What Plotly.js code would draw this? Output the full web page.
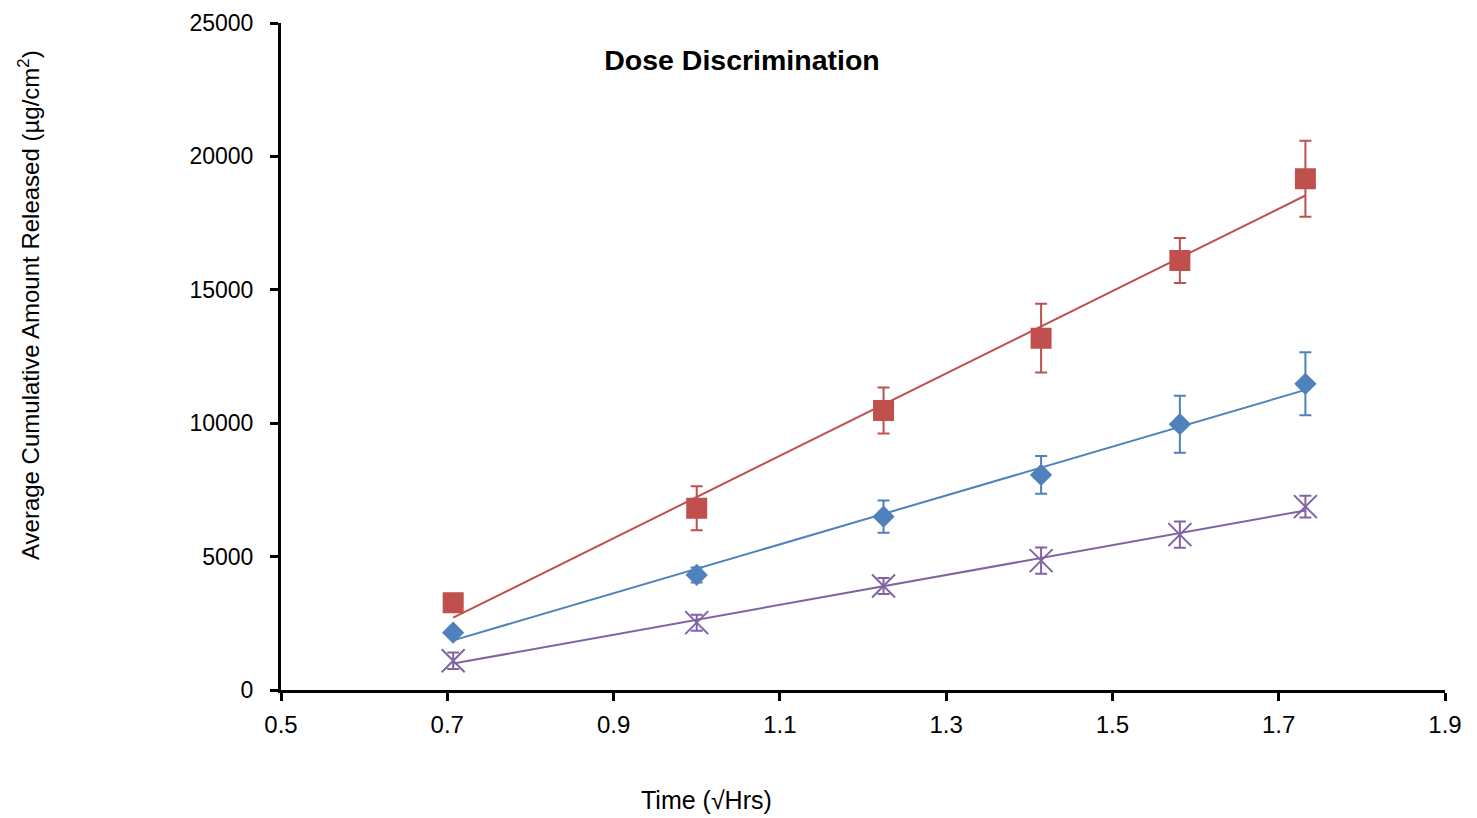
<!DOCTYPE html>
<html>
<head>
<meta charset="utf-8">
<script src="https://cdn.plot.ly/plotly-3.0.1.min.js"></script>
<style>
html,body{margin:0;padding:0;background:#fff;}
#chart{width:1477px;height:818px;}
</style>
</head>
<body>
<div id="chart"></div>
<script>
// Time points (square root of hours)
const sqrtTime = [0.7071, 1.0, 1.2247, 1.4142, 1.5811, 1.7321];

// Series values (µg/cm²) and standard deviations
const redValues  = [3274, 6813, 10474, 13188, 16098, 19162];
const redErrors  = [150, 825, 862, 1288, 844, 1425];

const blueValues = [2149, 4312, 6498, 8062, 9963, 11475];
const blueErrors = [100, 280, 606, 706, 1069, 1181];

const purpleValues = [1099, 2524, 3900, 4849, 5823, 6873];
const purpleErrors = [310, 300, 300, 495, 493, 407];

const xTickVals = [0.5, 0.7, 0.9, 1.1, 1.3, 1.5, 1.7, 1.9];
const yTickVals = [0, 5000, 10000, 15000, 20000, 25000];

const chartTitle = 'Dose Discrimination';
const xTitle = 'Time (√Hrs)';
const yTitle = 'Average Cumulative Amount Released (µg/cm<sup>2</sup>)';

const RED = '#C0504D', BLUE = '#4F81BD', PURPLE = '#8064A2';
const FONT = '"Liberation Sans", Arial, sans-serif';

function linFit(xs, ys) {
  const n = xs.length;
  const mx = xs.reduce((a, b) => a + b, 0) / n;
  const my = ys.reduce((a, b) => a + b, 0) / n;
  let sxy = 0, sxx = 0;
  for (let i = 0; i < n; i++) { sxy += (xs[i] - mx) * (ys[i] - my); sxx += (xs[i] - mx) ** 2; }
  const m = sxy / sxx, b = my - m * mx;
  const x0 = Math.min(...xs), x1 = Math.max(...xs);
  return { x: [x0, x1], y: [m * x0 + b, m * x1 + b] };
}

function trend(ys, color) {
  const f = linFit(sqrtTime, ys);
  return { x: f.x, y: f.y, mode: 'lines', type: 'scatter', line: { color: color, width: 2 }, hoverinfo: 'skip', showlegend: false };
}

function pts(ys, errs, color, symbol, size) {
  return {
    x: sqrtTime, y: ys, mode: 'markers', type: 'scatter', showlegend: false,
    marker: { color: color, symbol: symbol, size: size, line: { color: color, width: 2 } },
    error_y: { type: 'data', array: errs, visible: true, color: color, thickness: 2, width: 6 }
  };
}

const data = [
  trend(redValues, RED), trend(blueValues, BLUE), trend(purpleValues, PURPLE),
  pts(purpleValues, purpleErrors, PURPLE, 'x-thin-open', 23),
  pts(blueValues, blueErrors, BLUE, 'diamond', 15),
  pts(redValues, redErrors, RED, 'square', 19)
];

const W = 1477, H = 818, L = 281, R = 32, T = 23, B = 128;
const plotW = W - L - R, plotH = H - T - B;

const layout = {
  width: W, height: H,
  margin: { l: L, r: R, t: T, b: B },
  paper_bgcolor: '#fff', plot_bgcolor: '#fff',
  font: { family: FONT, color: '#000' },
  title: {
    text: '<b>' + chartTitle + '</b>',
    font: { family: FONT, size: 28.5, color: '#000' },
    x: 742 / W, xref: 'container', xanchor: 'center',
    y: 1 - 60 / H, yref: 'container', yanchor: 'middle'
  },
  xaxis: {
    range: [0.5, 1.9], tickvals: xTickVals, ticktext: xTickVals.map(v => v.toFixed(1)),
    showgrid: false, zeroline: false,
    showline: true, linecolor: '#000', linewidth: 3,
    ticks: 'outside', ticklen: 8, tickwidth: 3, tickcolor: '#000',
    tickfont: { family: FONT, size: 24, color: '#000' },
    ticklabelstandoff: 3
  },
  yaxis: {
    range: [0, 25000], tickvals: yTickVals, ticktext: yTickVals.map(String),
    showgrid: false, zeroline: false,
    showline: true, linecolor: '#000', linewidth: 3,
    ticks: 'outside', ticklen: 8, tickwidth: 3, tickcolor: '#000',
    tickfont: { family: FONT, size: 23, color: '#000' },
    ticklabelstandoff: 12
  },
  annotations: [
    {
      text: xTitle, showarrow: false, xref: 'paper', yref: 'paper',
      x: (706 - L) / plotW, y: -(800 - (T + plotH)) / plotH,
      xanchor: 'center', yanchor: 'middle',
      font: { family: FONT, size: 25, color: '#000' }
    },
    {
      text: yTitle, showarrow: false, xref: 'paper', yref: 'paper', textangle: -90,
      x: (29 - L) / plotW, y: (T + plotH - 305) / plotH,
      xanchor: 'center', yanchor: 'middle',
      font: { family: FONT, size: 24, color: '#000' }
    }
  ]
};

Plotly.newPlot('chart', data, layout, { displayModeBar: false, staticPlot: true });
</script>
</body>
</html>
